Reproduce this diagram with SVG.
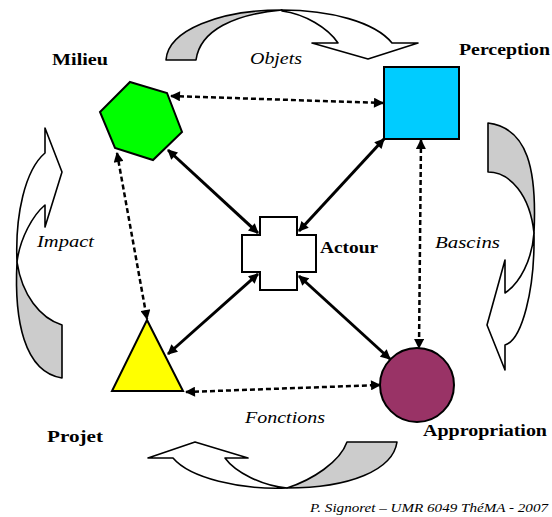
<svg xmlns="http://www.w3.org/2000/svg" width="552" height="517" viewBox="0 0 552 517">
<defs>
<style>
.lbl{font-family:"Liberation Serif","DejaVu Serif",serif;font-weight:bold;font-size:17px;fill:#000}
.it{font-family:"Liberation Serif","DejaVu Serif",serif;font-style:italic;font-size:17px;fill:#000}
.cr{font-family:"Liberation Serif",serif;font-style:italic;font-size:13px;fill:#000}
.rib{stroke:#000;stroke-width:1.6;stroke-linejoin:round}
.w{fill:#fff}
.g{fill:#cccccc}
.node{stroke:#000;stroke-width:2}
.solid{stroke:#000;stroke-width:3;fill:none;marker-start:url(#ah);marker-end:url(#ah)}
.dash{stroke:#000;stroke-width:2.5;fill:none;stroke-dasharray:5 3;marker-start:url(#ah);marker-end:url(#ah)}
</style>
<marker id="ah" viewBox="0 0 10 10" refX="9" refY="5" markerUnits="userSpaceOnUse" markerWidth="11" markerHeight="10" orient="auto-start-reverse">
<path d="M0,0 L10,5 L0,10 Z" fill="#000"/>
</marker>
</defs>
<rect width="552" height="517" fill="#fff"/>

<g id="arrow-objets">
<path class="rib w" d="M282,10 C330,10 375,22 392,43 L418,43 L368,59 L312,43 L338,43 C328,28 305,14 282,11 Z"/>
<path class="rib g" d="M166,60 C168,30 220,10 282,10 C235,14 200,30 196,60 Z"/>
<text class="it" x="250" y="64" textLength="52" lengthAdjust="spacingAndGlyphs">Objets</text>
</g>

<g id="arrow-impact">
<path class="rib w" d="M45,128 L62,172 L45,227 L45,205 C33,215 20,238 17,262 C15,215 25,170 45,153 Z"/>
<path class="rib g" d="M17,262 C14,320 24,372 62,378 L62,325 C40,318 22,295 17,262 Z"/>
<text class="it" x="37" y="247" textLength="57" lengthAdjust="spacingAndGlyphs">Impact</text>
</g>

<g id="arrow-bascins">
<path class="rib g" d="M488,123 L488,172 C510,172 530,195 534,233 C537,170 528,128 488,123 Z"/>
<path class="rib w" d="M534,233 C535,290 522,340 505,345 L505,370 L487,325 L505,260 L505,293 C520,283 532,260 534,233 Z"/>
<text class="it" x="435" y="248" textLength="65" lengthAdjust="spacingAndGlyphs">Bascins</text>
</g>

<g id="arrow-fonctions">
<path class="rib g" d="M347,442 L397,442 C393,470 350,488 287,488 C312,480 340,462 347,442 Z"/>
<path class="rib w" d="M287,488 C240,490 190,478 173,458 L148,458 L195,442 L248,458 L225,458 C235,472 262,486 287,488 Z"/>
<text class="it" x="245" y="423" textLength="80" lengthAdjust="spacingAndGlyphs">Fonctions</text>
</g>

<g id="connectors">
<line class="solid" x1="168" y1="150" x2="258" y2="233"/>
<line class="solid" x1="384" y1="139" x2="299" y2="231"/>
<line class="solid" x1="168" y1="354" x2="258" y2="274"/>
<line class="solid" x1="390" y1="359" x2="299" y2="276"/>
<line class="dash" x1="171" y1="96" x2="383" y2="103"/>
<line class="dash" x1="117" y1="153" x2="147" y2="319"/>
<line class="dash" x1="421" y1="140" x2="419" y2="348"/>
<line class="dash" x1="186" y1="392" x2="380" y2="385"/>
</g>

<g id="milieu">
<polygon class="node" fill="#00ff00" points="130,82 167,93 182,132 153,160 115,148 100,112"/>
<text class="lbl" x="52" y="65" textLength="56" lengthAdjust="spacingAndGlyphs">Milieu</text>
</g>

<g id="perception">
<rect class="node" fill="#00ccff" x="384" y="67" width="75" height="72"/>
<text class="lbl" x="459" y="55" textLength="91" lengthAdjust="spacingAndGlyphs">Perception</text>
</g>

<g id="acteur">
<path class="node" fill="#fff" d="M260,217 H297 V235 H316 V272 H297 V290 H260 V272 H242 V235 H260 Z"/>
<text class="lbl" x="320" y="253" textLength="58" lengthAdjust="spacingAndGlyphs">Actour</text>
</g>

<g id="projet">
<polygon class="node" fill="#ffff00" points="147,320 183,391 112,391"/>
<text class="lbl" x="47" y="442" textLength="56" lengthAdjust="spacingAndGlyphs">Projet</text>
</g>

<g id="appropriation">
<circle class="node" fill="#993366" cx="417" cy="385" r="37"/>
<text class="lbl" x="423" y="436" textLength="124" lengthAdjust="spacingAndGlyphs">Appropriation</text>
</g>

<text class="cr" x="310" y="512" textLength="238" lengthAdjust="spacingAndGlyphs">P. Signoret – UMR 6049 ThéMA - 2007</text>
</svg>
